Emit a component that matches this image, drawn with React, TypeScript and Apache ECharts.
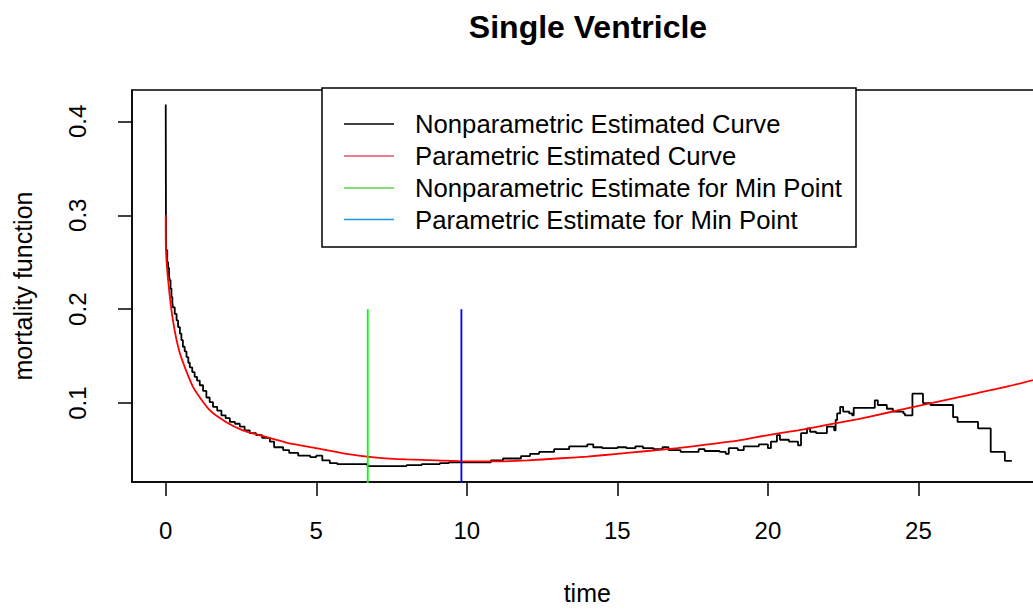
import React, { useEffect, useRef } from "react";
import * as echarts from "echarts";

const FONT = '"Liberation Sans", Arial, sans-serif';

const xTicks = [0, 5, 10, 15, 20, 25];
const yTicks = [0.1, 0.2, 0.3, 0.4];

// Nonparametric estimated curve (step function): time and value
const nonparamTime = [
  0, 0.01, 0.05, 0.08, 0.11, 0.13, 0.16, 0.19, 0.22, 0.24, 0.3, 0.36, 0.41, 0.47, 0.52, 0.57,
  0.63, 0.69, 0.75, 0.8, 0.88, 0.96, 1.04, 1.13, 1.24, 1.35, 1.46, 1.57, 1.71, 1.85, 1.99,
  2.13, 2.3, 2.46, 2.62, 2.79, 3.0, 3.2, 3.46, 3.6, 3.9, 4.1, 4.4, 4.8, 5.0, 5.2, 5.45, 5.7,
  6.7, 8.0, 8.5, 9.1, 9.4, 10.8, 11.2, 11.8, 12.1, 12.4, 12.9, 13.4, 14.0, 14.2, 14.5, 15.0,
  15.3, 15.6, 15.85, 16.2, 16.5, 16.7, 17.1, 17.7, 17.9, 18.4, 18.6, 18.7, 19.0, 19.2, 19.7,
  20.0, 20.1, 20.3, 20.4, 20.7, 21.0, 21.1, 21.3, 21.4, 21.6, 21.96, 22.2, 22.25, 22.3, 22.4,
  22.5, 22.7, 22.8, 22.85, 23.55, 23.65, 23.95, 24.15, 24.5, 24.55, 24.8, 25.15, 25.4, 26.15,
  26.3, 26.98, 27.4, 27.87, 28.1,
];
const nonparamValue = [
  0.418, 0.263, 0.25, 0.244, 0.236, 0.231, 0.222, 0.213, 0.207, 0.202, 0.195, 0.188, 0.181,
  0.174, 0.167, 0.16, 0.155, 0.149, 0.143, 0.138, 0.133, 0.128, 0.124, 0.119, 0.113, 0.106,
  0.101, 0.096, 0.092, 0.087, 0.084, 0.08, 0.078, 0.075, 0.071, 0.068, 0.066, 0.063, 0.059,
  0.053, 0.05, 0.047, 0.044, 0.0425, 0.044, 0.039, 0.036, 0.035, 0.033, 0.034, 0.035, 0.036,
  0.037, 0.039, 0.041, 0.0436, 0.046, 0.048, 0.051, 0.054, 0.056, 0.053, 0.052, 0.053, 0.052,
  0.054, 0.052, 0.051, 0.053, 0.05, 0.048, 0.051, 0.049, 0.048, 0.046, 0.052, 0.05, 0.054,
  0.056, 0.052, 0.059, 0.066, 0.061, 0.059, 0.055, 0.068, 0.073, 0.0695, 0.068, 0.075, 0.071,
  0.082, 0.089, 0.096, 0.091, 0.089, 0.087, 0.095, 0.103, 0.098, 0.094, 0.091, 0.089, 0.087,
  0.11, 0.1, 0.098, 0.085, 0.08, 0.073, 0.048, 0.0386, 0.0386,
];

// Parametric estimated curve: time and value
const paramTime = [
  0, 0.005, 0.08, 0.24, 0.47, 0.91, 1.46, 2.0, 2.56, 3.1, 4, 5, 6, 7, 8, 9, 10, 11, 12, 13,
  14, 15, 16, 17, 18, 19, 20, 21, 22, 23, 24, 25, 26, 27, 28, 29.1,
];
const paramValue = [
  0.3, 0.266, 0.231, 0.188, 0.153, 0.117, 0.0925, 0.08, 0.071, 0.066, 0.058, 0.052, 0.046,
  0.042, 0.04, 0.039, 0.038, 0.038, 0.039, 0.041, 0.043, 0.046, 0.049, 0.052, 0.056, 0.06,
  0.066, 0.071, 0.077, 0.083, 0.09, 0.097, 0.104, 0.111, 0.118, 0.127,
];

const nonparamMin = 6.71;
const paramMin = 9.82;
const minLineTop = 0.2;

const legendLabels = [
  "Nonparametric Estimated Curve",
  "Parametric Estimated Curve",
  "Nonparametric Estimate for Min Point",
  "Parametric Estimate for Min Point",
];
const legendColors = ["#000000", "#DF536B", "#61D04F", "#2297E6"];

export default function App() {
  const ref = useRef<HTMLDivElement>(null);

  useEffect(() => {
    if (!ref.current) return;
    const chart = echarts.init(ref.current, undefined, { renderer: "svg" });

    const blackData = nonparamTime.map((t, i) => [t, nonparamValue[i]]);
    const redData = paramTime.map((t, i) => [t, paramValue[i]]);

    const legendRows = [124, 156, 188, 219.5];
    const legendGraphics: any[] = [
      {
        type: "rect",
        shape: { x: 322, y: 88, width: 534, height: 159 },
        style: { fill: "#ffffff", stroke: "#000000", lineWidth: 1.5 },
        z: 100,
      },
    ];
    legendLabels.forEach((label, i) => {
      legendGraphics.push({
        type: "line",
        shape: { x1: 344, y1: legendRows[i], x2: 394, y2: legendRows[i] },
        style: { stroke: legendColors[i], lineWidth: 1.5 },
        z: 101,
      });
      legendGraphics.push({
        type: "text",
        style: {
          text: label,
          x: 415,
          y: legendRows[i],
          fill: "#000000",
          font: `25.7px ${FONT}`,
          align: "left",
          verticalAlign: "middle",
        },
        z: 101,
      });
    });

    chart.setOption({
      animation: false,
      backgroundColor: "#ffffff",
      title: {
        text: "Single Ventricle",
        left: 583,
        textAlign: "center",
        top: 6,
        textStyle: { fontFamily: FONT, fontSize: 32, fontWeight: "bold", color: "#000" },
      },
      grid: {
        left: 132,
        right: 1.5,
        top: 90,
        bottom: 128,
        show: true,
        borderColor: "#000",
        borderWidth: 1.5,
        backgroundColor: "transparent",
      },
      xAxis: {
        type: "value",
        min: -1.12,
        max: 29.12,
        name: "time",
        nameLocation: "middle",
        nameGap: 98,
        nameTextStyle: { fontFamily: FONT, fontSize: 25, color: "#000" },
        axisLine: { show: true, onZero: false, lineStyle: { color: "#000", width: 1.5 } },
        axisTick: {
          show: true,
          length: 14,
          customValues: xTicks,
          lineStyle: { color: "#000", width: 1.5 },
        },
        axisLabel: {
          customValues: xTicks,
          margin: 36,
          fontFamily: FONT,
          fontSize: 24,
          color: "#000",
        },
        splitLine: { show: false },
      },
      yAxis: {
        type: "value",
        min: 0.016,
        max: 0.4334,
        name: "mortality function",
        nameLocation: "middle",
        nameGap: 97,
        nameRotate: 90,
        nameTextStyle: { fontFamily: FONT, fontSize: 25, color: "#000" },
        axisLine: { show: true, onZero: false, lineStyle: { color: "#000", width: 1.5 } },
        axisTick: {
          show: true,
          length: 14,
          customValues: yTicks,
          lineStyle: { color: "#000", width: 1.5 },
        },
        axisLabel: {
          customValues: yTicks,
          rotate: 90,
          margin: 43,
          fontFamily: FONT,
          fontSize: 24,
          color: "#000",
          formatter: (v: number) => v.toFixed(1),
        },
        splitLine: { show: false },
      },
      series: [
        {
          name: "Nonparametric Estimated Curve",
          type: "line",
          data: blackData,
          step: "end",
          showSymbol: false,
          lineStyle: { color: "#000000", width: 1.8 },
          z: 2,
        },
        {
          name: "Parametric Estimated Curve",
          type: "line",
          data: redData,
          smooth: 0.2,
          showSymbol: false,
          lineStyle: { color: "#FF0000", width: 1.8 },
          z: 3,
        },
        {
          name: "Nonparametric Estimate for Min Point",
          type: "line",
          data: [
            [nonparamMin, 0],
            [nonparamMin, minLineTop],
          ],
          showSymbol: false,
          lineStyle: { color: "#00FF00", width: 1.8 },
          z: 4,
        },
        {
          name: "Parametric Estimate for Min Point",
          type: "line",
          data: [
            [paramMin, 0],
            [paramMin, minLineTop],
          ],
          showSymbol: false,
          lineStyle: { color: "#0000FF", width: 1.8 },
          z: 4,
        },
      ],
      graphic: legendGraphics,
    });

    return () => chart.dispose();
  }, []);

  return (
    <div
      style={{
        position: "fixed",
        left: 0,
        top: 0,
        width: 1033,
        height: 610,
        overflow: "hidden",
        background: "#fff",
      }}
    >
      <div ref={ref} style={{ width: 1044, height: 610 }} />
    </div>
  );
}
